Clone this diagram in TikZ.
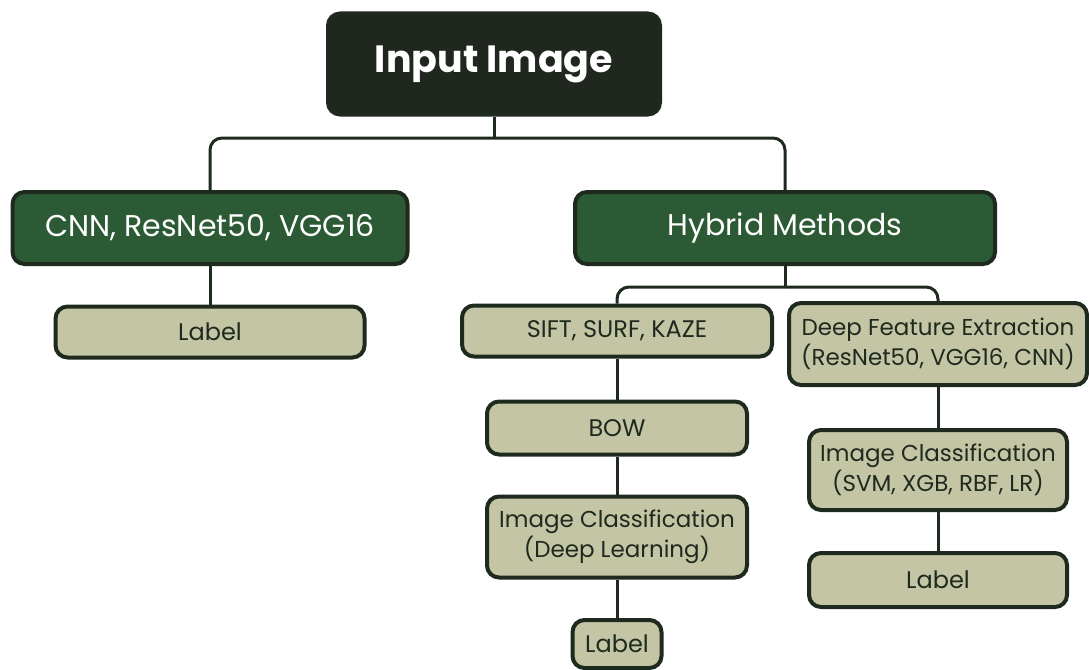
\documentclass[tikz,border=0pt]{standalone}
\usepackage{fontspec}
\setmainfont{Poppins}

\definecolor{rootbg}{HTML}{1F271E}
\definecolor{leafgreen}{HTML}{2C5A35}
\definecolor{sage}{HTML}{C4C5A5}
\definecolor{ink}{HTML}{1F2A1E}

\tikzset{
  box/.style={draw=ink, line width=4pt, rounded corners=12pt, align=center, inner sep=0pt},
  rootbox/.style={box, fill=rootbg, text=white, font=\fontsize{38}{42}\selectfont\bfseries},
  methodbox/.style={box, fill=leafgreen, text=white, font=\fontsize{30}{34}\selectfont},
  stepbox/.style={box, fill=sage, text=ink, font=\fontsize{24}{30}\selectfont},
  steptwo/.style={stepbox, font=\fontsize{23}{30}\selectfont},
  wire/.style={draw=ink, line width=3pt, rounded corners=12pt},
}

\begin{document}
\begin{tikzpicture}[x=1pt, y=-1pt]
    \useasboundingbox (0,0) rectangle (1089,669);

    % top
    \node[rootbox, minimum width=332pt, minimum height=101pt] (input) at (494,64) {Input Image};
    \node[methodbox, minimum width=395pt, minimum height=72pt] (cnn) at (210,228) {CNN, ResNet50, VGG16};
    \node[methodbox, minimum width=420pt, minimum height=72pt] (hybrid) at (785,228) {Hybrid Methods};

    % left branch
    \node[stepbox, minimum width=309pt, minimum height=51pt] (cnnlabel) at (210,332) {Label};

    % hybrid branches
    \node[stepbox, minimum width=310pt, minimum height=51pt] (sift) at (617,331) {SIFT, SURF, KAZE};
    \node[steptwo, minimum width=298pt, minimum height=82pt] (deep) at (938,344) {Deep Feature Extraction\\(ResNet50, VGG16, CNN)};
    \node[stepbox, minimum width=260pt, minimum height=53pt] (bow) at (617,428) {BOW};
    \node[steptwo, minimum width=260pt, minimum height=81pt] (dlclass) at (617,537) {Image Classification\\(Deep Learning)};
    \node[stepbox, minimum width=89pt, minimum height=48pt] (dllabel) at (617,644) {Label};
    \node[steptwo, minimum width=258pt, minimum height=80pt] (mlclass) at (938,470) {Image Classification\\(SVM, XGB, RBF, LR)};
    \node[stepbox, minimum width=258pt, minimum height=54pt] (mllabel) at (938,580) {Label};

    \coordinate (split1) at (494,138);
    \coordinate (split2) at (785,287);

    \draw[wire] (input.south) -- (split1);
    \draw[wire] (split1) -| (cnn.north);
    \draw[wire] (split1) -| (hybrid.north);
    \draw[wire] (cnn.south) -- (cnnlabel.north);

    \draw[wire] (hybrid.south) -- (split2);
    \draw[wire] (split2) -| (sift.north);
    \draw[wire] (split2) -| (deep.north);
    \draw[wire] (sift.south) -- (bow.north);
    \draw[wire] (bow.south) -- (dlclass.north);
    \draw[wire] (dlclass.south) -- (dllabel.north);
    \draw[wire] (deep.south) -- (mlclass.north);
    \draw[wire] (mlclass.south) -- (mllabel.north);
\end{tikzpicture}
\end{document}
